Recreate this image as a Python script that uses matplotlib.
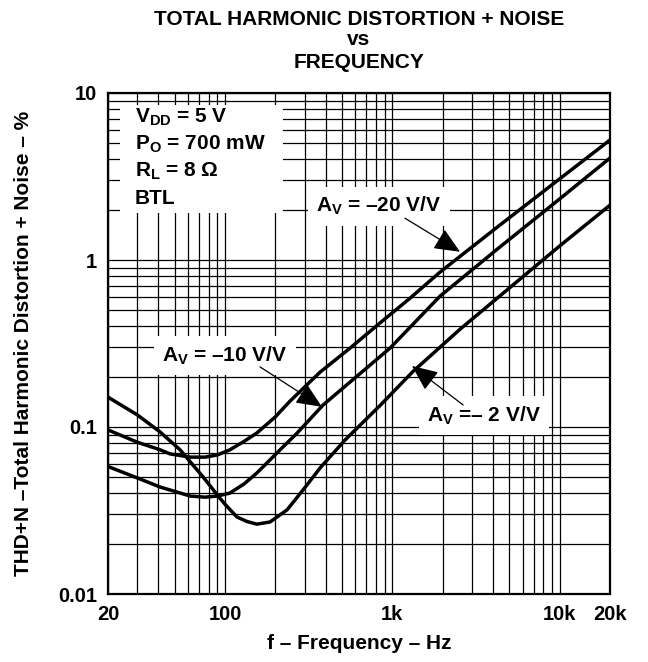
import matplotlib
matplotlib.use("Agg")
import matplotlib.pyplot as plt
from matplotlib.patches import Rectangle
from matplotlib.ticker import FixedLocator, NullFormatter

# THD+N vs frequency
freq_av20 = [20, 30, 41, 47, 62, 76, 90, 107, 130, 155, 200, 245, 370, 560, 845, 1280, 1930, 4400, 10000, 20000]
thd_av20 = [0.096, 0.081, 0.073, 0.069, 0.066, 0.066, 0.068, 0.073, 0.082, 0.092, 0.115, 0.143, 0.213, 0.297, 0.42, 0.592, 0.847, 1.62, 3.06, 5.23]

freq_av10 = [20, 30, 41, 62, 76, 90, 107, 130, 155, 222, 270, 386, 560, 970, 1930, 4400, 10000, 20000]
thd_av10 = [0.058, 0.0495, 0.0437, 0.0386, 0.038, 0.0386, 0.0402, 0.0456, 0.053, 0.0759, 0.092, 0.1355, 0.186, 0.297, 0.608, 1.197, 2.32, 4.08]

freq_av2 = [20, 30, 41, 54, 74, 93, 100, 118, 135, 155, 186, 235, 293, 370, 522, 845, 1330, 2540, 4110, 10000, 20000]
thd_av2 = [0.151, 0.118, 0.0933, 0.0729, 0.0502, 0.0376, 0.0345, 0.0289, 0.0272, 0.0262, 0.027, 0.0319, 0.042, 0.0568, 0.0836, 0.1345, 0.215, 0.385, 0.576, 1.213, 2.13]

x_ticks = [20, 100, 1000, 10000, 20000]
x_ticklabels = ["20", "100", "1k", "10k", "20k"]
y_ticks = [0.01, 0.1, 1, 10]
y_ticklabels = ["0.01", "0.1", "1", "10"]

conditions = ["V$_{DD}$ = 5 V", "P$_{O}$ = 700 mW", "R$_{L}$ = 8 Ω", "BTL"]

plt.rcParams["font.family"] = ["Liberation Sans", "DejaVu Sans"]
plt.rcParams["font.weight"] = "bold"
plt.rcParams["axes.labelweight"] = "bold"
plt.rcParams["mathtext.fontset"] = "custom"
plt.rcParams["mathtext.default"] = "regular"

fig = plt.figure(figsize=(6.48, 6.62), dpi=100)
ax = fig.add_axes([108 / 648, 1 - 594 / 662, 502 / 648, 501 / 662])
ax.set_xscale("log")
ax.set_yscale("log")
ax.set_xlim(20, 20000)
ax.set_ylim(0.01, 10)

minor_x = [m * d for d in (10, 100, 1000) for m in range(2, 10)]
minor_x = [v for v in minor_x if 20 < v < 20000]
minor_y = [m * d for d in (0.01, 0.1, 1) for m in range(2, 10)]
ax.xaxis.set_major_locator(FixedLocator(x_ticks))
ax.xaxis.set_minor_locator(FixedLocator(minor_x))
ax.yaxis.set_major_locator(FixedLocator(y_ticks))
ax.yaxis.set_minor_locator(FixedLocator(minor_y))
ax.set_xticklabels(x_ticklabels)
ax.set_yticklabels(y_ticklabels)
ax.xaxis.set_minor_formatter(NullFormatter())
ax.yaxis.set_minor_formatter(NullFormatter())
ax.tick_params(which="both", length=0, labelsize=14.5, pad=8)

ax.set_axisbelow(True)
ax.grid(True, which="both", color="black", lw=0.9)
for s in ax.spines.values():
    s.set_linewidth(1.6)

ax.plot(freq_av20, thd_av20, color="black", lw=2.5, zorder=3)
ax.plot(freq_av10, thd_av10, color="black", lw=2.5, zorder=3)
ax.plot(freq_av2, thd_av2, color="black", lw=2.5, zorder=3)

# conditions box in the upper left corner
ax.add_patch(Rectangle((0.024, 0.760), 0.325, 0.216, transform=ax.transAxes,
                       facecolor="white", edgecolor="none", zorder=1.5))
for i, txt in enumerate(conditions):
    ax.text(0.054, 0.952 - i * 0.054, txt, transform=ax.transAxes, fontsize=15,
            ha="left", va="center", zorder=4)

box = dict(facecolor="white", edgecolor="none", pad=6)
arrow = dict(arrowstyle="-|>,head_length=0.8,head_width=0.35", color="black",
             lw=0.9, shrinkA=0, shrinkB=0, mutation_scale=20)

ax.annotate("", xy=(2540, 1.12), xytext=(1190, 1.78), arrowprops=arrow, zorder=5)
ax.text(0.54, 0.774, "A$_{V}$ = –20 V/V", transform=ax.transAxes, fontsize=15,
        ha="center", va="center", bbox=box, zorder=4)

ax.annotate("", xy=(380, 0.132), xytext=(162, 0.229), arrowprops=arrow, zorder=5)
ax.text(0.233, 0.476, "A$_{V}$ = –10 V/V", transform=ax.transAxes, fontsize=15,
        ha="center", va="center", bbox=box, zorder=4)

ax.annotate("", xy=(1312, 0.232), xytext=(2650, 0.1355), arrowprops=arrow, zorder=5)
ax.text(0.749, 0.356, "A$_{V}$ =– 2 V/V", transform=ax.transAxes, fontsize=15,
        ha="center", va="center", bbox=box, zorder=4)

ax.set_xlabel("f – Frequency – Hz", fontsize=15, labelpad=7)
ax.set_ylabel("THD+N –Total Harmonic Distortion + Noise – %", fontsize=15, labelpad=18)

fig.text(359 / 648, 1 - 25 / 662, "TOTAL HARMONIC DISTORTION + NOISE", ha="center",
         va="baseline", fontsize=15)
fig.text(359 / 648, 1 - 45 / 662, "vs", ha="center", va="baseline", fontsize=15)
fig.text(359 / 648, 1 - 68 / 662, "FREQUENCY", ha="center", va="baseline", fontsize=15)

fig.savefig("out.png", dpi=100)
